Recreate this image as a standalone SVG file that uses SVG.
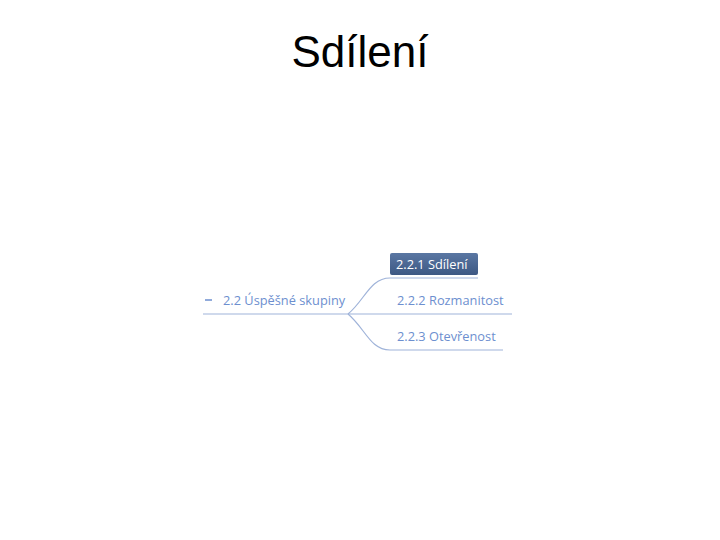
<svg xmlns="http://www.w3.org/2000/svg" width="720" height="540" viewBox="0 0 720 540">
<style>
.title{font-family:"Liberation Sans",Arial,sans-serif;font-size:44px;fill:#000}
.lbl{font-family:"Open Sans","Noto Sans",sans-serif;font-size:12.8px;fill:#6d8fcf}
.sel{font-family:"Open Sans","Noto Sans",sans-serif;font-size:12.8px;fill:#ffffff}
.ln{fill:none;stroke:#9fb3d9;stroke-width:1.2}
</style>
<defs>
<linearGradient id="g" x1="0" y1="0" x2="0" y2="1">
<stop offset="0" stop-color="#5a77a3"/>
<stop offset="1" stop-color="#3d5883"/>
</linearGradient>
</defs>
<rect width="720" height="540" fill="#ffffff"/>
<text class="title" x="360" y="67" text-anchor="middle">Sdílení</text>
<g id="connectors">
<path class="ln" d="M203 314 H512"/>
<path class="ln" d="M348 314 C365 300 370 278 390 278 H478"/>
<path class="ln" d="M348 314 C365 328 370 350 390 350 H503"/>
</g>
<g id="root">
<path d="M205 300 H212" stroke="#6d8fcf" stroke-width="1.5"/>
<text class="lbl" x="223" y="305">2.2 Úspěšné skupiny</text>
</g>
<g id="n221">
<rect x="390" y="253" width="88" height="22" rx="2" fill="url(#g)"/>
<text class="sel" x="396" y="269">2.2.1 Sdílení</text>
</g>
<g id="n222">
<text class="lbl" x="397" y="305">2.2.2 Rozmanitost</text>
</g>
<g id="n223">
<text class="lbl" x="397" y="341">2.2.3 Otevřenost</text>
</g>
</svg>
